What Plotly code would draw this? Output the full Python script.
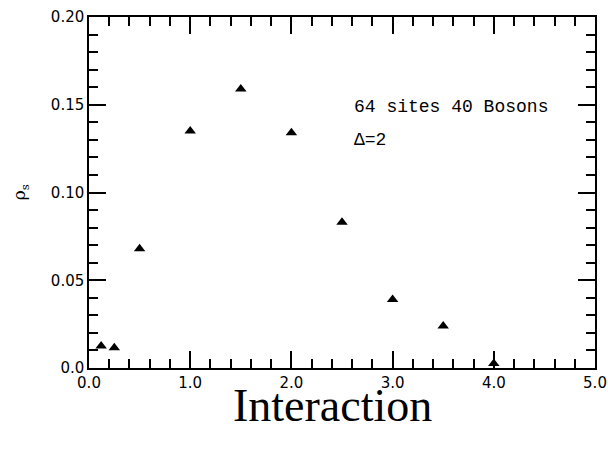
import plotly.graph_objects as go

# Data
interaction = [0.12, 0.25, 0.5, 1.0, 1.5, 2.0, 2.5, 3.0, 3.5, 4.0]
rho_s = [0.0125, 0.0115, 0.068, 0.135, 0.159, 0.134, 0.083, 0.039, 0.024, 0.0025]

x_tickvals = [0, 1, 2, 3, 4, 5]
x_ticktext = ["0.0", "1.0", "2.0", "3.0", "4.0", "5.0"]
y_tickvals = [0, 0.05, 0.10, 0.15, 0.20]
y_ticktext = ["0.0", "0.05", "0.10", "0.15", "0.20"]

fig = go.Figure()
fig.add_trace(go.Scatter(
    x=interaction, y=rho_s, mode="markers",
    marker=dict(symbol="triangle-up", size=10, color="black"),
    showlegend=False,
))

axis_common = dict(
    showgrid=False, zeroline=False, showline=True, linecolor="black", linewidth=1.5,
    mirror="allticks", ticks="inside", ticklen=17, tickwidth=1.5, tickcolor="black",
    tickfont=dict(family="DejaVu Sans", size=15, color="black"),
    automargin=False,
)

fig.update_xaxes(
    range=[0, 5], tickmode="array", tickvals=x_tickvals, ticktext=x_ticktext,
    minor=dict(dtick=0.2, ticks="inside", ticklen=9, tickwidth=1.5, tickcolor="black"),
    **axis_common,
)
fig.update_yaxes(
    range=[0, 0.2], tickmode="array", tickvals=y_tickvals, ticktext=y_ticktext,
    minor=dict(dtick=0.01, ticks="inside", ticklen=9, tickwidth=1.5, tickcolor="black"),
    **axis_common,
)

fig.add_annotation(x=2.6, y=0.149, xref="x", yref="y", text="64 sites 40 Bosons",
                   showarrow=False, xanchor="left", yanchor="middle",
                   font=dict(family="Liberation Mono", size=18, color="black"))
fig.add_annotation(x=2.6, y=0.130, xref="x", yref="y", text="Δ=2",
                   showarrow=False, xanchor="left", yanchor="middle",
                   font=dict(family="Liberation Mono", size=18, color="black"))
fig.add_annotation(x=-0.135, y=0.5, xref="paper", yref="paper", text="ρ<sub>s</sub>",
                   showarrow=False, textangle=-90, xanchor="center", yanchor="middle",
                   font=dict(family="DejaVu Serif", size=17, color="black"))
fig.add_annotation(x=0.482, y=-0.107, xref="paper", yref="paper", text="Interaction",
                   showarrow=False, xanchor="center", yanchor="middle",
                   font=dict(family="Liberation Serif", size=46, color="black"))

fig.update_layout(
    width=608, height=453,
    margin=dict(l=89, r=13, t=17, b=85),
    paper_bgcolor="white", plot_bgcolor="white",
)

fig.write_html("out.html")
